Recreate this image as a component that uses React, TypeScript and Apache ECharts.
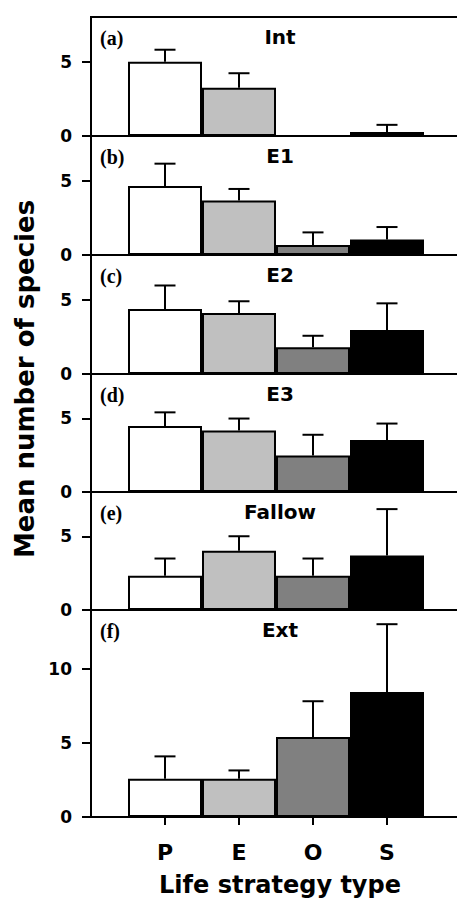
import React, { useEffect, useRef } from "react";
import * as echarts from "echarts";

// ---- data ----
const categories = ["P", "E", "O", "S"];
const panelNames = ["Int", "E1", "E2", "E3", "Fallow", "Ext"];
const panelLetters = ["(a)", "(b)", "(c)", "(d)", "(e)", "(f)"];

const meanInt = [5.0, 3.25, 0, 0.27];
const errInt = [0.8, 0.97, null, 0.48];
const meanE1 = [4.64, 3.66, 0.67, 1.05];
const errE1 = [1.5, 0.78, 0.85, 0.83];
const meanE2 = [4.37, 4.1, 1.8, 2.95];
const errE2 = [1.58, 0.79, 0.77, 1.8];
const meanE3 = [4.48, 4.17, 2.47, 3.52];
const errE3 = [0.92, 0.81, 1.41, 1.12];
const meanFallow = [2.32, 4.01, 2.32, 3.69];
const errFallow = [1.17, 0.99, 1.17, 3.15];
const meanExt = [2.58, 2.58, 5.41, 8.45];
const errExt = [1.52, 0.57, 2.42, 4.59];

const yMax = [8, 8, 8, 8, 8, 14];
const yTickValues = [[0, 5], [0, 5], [0, 5], [0, 5], [0, 5], [0, 5, 10]];

const barColors = ["#ffffff", "#c0c0c0", "#808080", "#000000"];

const means = [meanInt, meanE1, meanE2, meanE3, meanFallow, meanExt];
const errs = [errInt, errE1, errE2, errE3, errFallow, errExt];

// ---- layout ----
const CHART_W = 457;
const CHART_H = 898;
const LEFT = 91;
const PLOT_W = 370;
const tops = [17, 136, 255, 374, 492, 610];
const heights = [119, 119, 119, 118, 118, 207];

const SANS = "DejaVu Sans";
const SERIF = "Liberation Serif";

export default function App() {
  const ref = useRef<HTMLDivElement>(null);
  useEffect(() => {
    if (!ref.current) return;
    const chart = echarts.init(ref.current, undefined, { renderer: "svg" });
    const axisCats = [" ", ...categories, "  "];
    const grids: any[] = [];
    const xAxes: any[] = [];
    const yAxes: any[] = [];
    const series: any[] = [];
    const titles: any[] = [];
    const last = panelNames.length - 1;

    panelNames.forEach((name, i) => {
      grids.push({
        left: LEFT,
        top: tops[i],
        width: PLOT_W,
        height: heights[i],
        outerBoundsMode: "none",
        containLabel: false,
        show: i === 0,
        borderColor: "#000",
        borderWidth: 2,
        backgroundColor: "transparent",
      });
      xAxes.push({
        type: "category",
        gridIndex: i,
        data: axisCats,
        boundaryGap: false,
        axisLine: { show: true, lineStyle: { color: "#000", width: 2 } },
        axisTick: {
          show: i === last,
          length: 8,
          inside: false,
          interval: (idx: number) => idx >= 1 && idx <= categories.length,
          lineStyle: { color: "#000", width: 2 },
        },
        axisLabel: {
          show: i === last,
          interval: 0,
          margin: 24,
          color: "#000",
          fontFamily: SANS,
          fontWeight: "bold",
          fontSize: 22,
        },
        splitLine: { show: false },
      });
      yAxes.push({
        type: "value",
        gridIndex: i,
        min: 0,
        max: yMax[i],
        interval: 5,
        axisLine: { show: true, lineStyle: { color: "#000", width: 2 } },
        axisTick: {
          show: true,
          length: 9,
          customValues: yTickValues[i],
          lineStyle: { color: "#000", width: 2 },
        },
        axisLabel: {
          customValues: yTickValues[i],
          margin: 19,
          color: "#000",
          fontFamily: SANS,
          fontWeight: "bold",
          fontSize: 17,
        },
        splitLine: { show: false },
      });
      const m = means[i];
      const e = errs[i];
      series.push({
        type: "bar",
        xAxisIndex: i,
        yAxisIndex: i,
        barCategoryGap: "0%",
        data: [
          null,
          ...m.map((v, k) => ({
            value: v,
            itemStyle: { color: barColors[k], borderColor: "#000", borderWidth: 2 },
          })),
          null,
        ],
        z: 2,
      });
      series.push({
        type: "custom",
        xAxisIndex: i,
        yAxisIndex: i,
        z: 3,
        clip: false,
        data: m
          .map((v, k) => (e[k] == null ? null : [k + 1, v, e[k]]))
          .filter((d) => d !== null),
        renderItem: (params: any, api: any) => {
          const x = api.value(0);
          const mv = api.value(1);
          const ev = api.value(2);
          const p0 = api.coord([x, mv]);
          const p1 = api.coord([x, mv + ev]);
          const half = 10.5;
          const style = { stroke: "#000", lineWidth: 2 };
          return {
            type: "group",
            children: [
              { type: "line", shape: { x1: p0[0], y1: p0[1], x2: p1[0], y2: p1[1] }, style },
              { type: "line", shape: { x1: p1[0] - half, y1: p1[1], x2: p1[0] + half, y2: p1[1] }, style },
            ],
          };
        },
      });
      titles.push({
        text: panelLetters[i],
        left: 100,
        top: tops[i] + 11,
        textStyle: { fontFamily: SERIF, fontWeight: "bold", fontSize: 20, color: "#000" },
        padding: 0,
      });
      titles.push({
        text: name,
        left: 280,
        top: tops[i] + 10,
        textAlign: "center",
        textStyle: { fontFamily: SANS, fontWeight: "bold", fontSize: 20, color: "#000" },
        padding: 0,
      });
    });

    chart.setOption({
      animation: false,
      backgroundColor: "#fff",
      title: titles,
      grid: grids,
      xAxis: xAxes,
      yAxis: yAxes,
      series,
      graphic: [
        {
          type: "text",
          x: 25,
          y: 379,
          rotation: Math.PI / 2,
          style: {
            text: "Mean number of species",
            fontFamily: SANS,
            fontWeight: "bold",
            fontSize: 26,
            fill: "#000",
            textAlign: "center",
            textVerticalAlign: "middle",
            align: "center",
            verticalAlign: "middle",
          },
        },
        {
          type: "text",
          x: 280,
          y: 885,
          style: {
            text: "Life strategy type",
            fontFamily: SANS,
            fontWeight: "bold",
            fontSize: 24,
            fill: "#000",
            textAlign: "center",
            textVerticalAlign: "middle",
            align: "center",
            verticalAlign: "middle",
          },
        },
      ],
    });
    return () => chart.dispose();
  }, []);
  return (
    <div
      ref={ref}
      style={{ position: "fixed", left: 0, top: 0, width: CHART_W, height: CHART_H }}
    />
  );
}
